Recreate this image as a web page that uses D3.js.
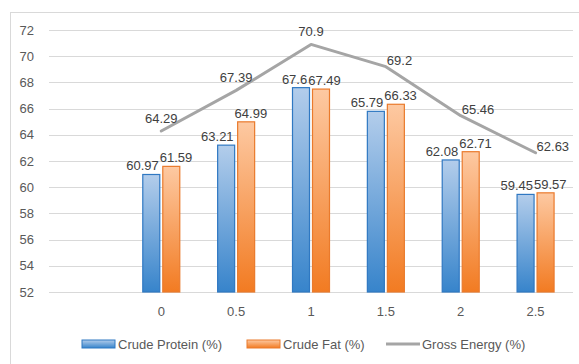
<!doctype html>
<html>
<head>
<meta charset="utf-8">
<title>Chart</title>
<script src="https://d3js.org/d3.v7.min.js"></script>
<style>
body { margin: 0; background: #fff; overflow: hidden; }
svg { display: block; }
text { font-family: "Liberation Sans", Arial, sans-serif; }
</style>
</head>
<body>
<svg width="579" height="364"></svg>
<script>
// first category is empty, as in the source sheet
var categories = ["", "0", "0.5", "1", "1.5", "2", "2.5"];
var protein = [null, 60.97, 63.21, 67.6, 65.79, 62.08, 59.45];
var fat = [null, 61.59, 64.99, 67.49, 66.33, 62.71, 59.57];
var energy = [null, 64.29, 67.39, 70.9, 69.2, 65.46, 62.63];
var yTicks = [52, 54, 56, 58, 60, 62, 64, 66, 68, 70, 72];
var seriesNames = ["Crude Protein (%)", "Crude Fat (%)", "Gross Energy (%)"];

var svg = d3.select("svg");
var plotLeft = 49, plotRight = 573, plotTop = 30, plotBottom = 292;

svg.append("rect")
    .attr("x", 10.5).attr("y", 12.5)
    .attr("width", 700).attr("height", 500)
    .attr("fill", "none").attr("stroke", "#d9d9d9");

var defs = svg.append("defs");
function grad(id, c1, c2) {
    var g = defs.append("linearGradient").attr("id", id)
        .attr("x1", 0).attr("y1", 0).attr("x2", 0).attr("y2", 1);
    g.append("stop").attr("offset", "0%").attr("stop-color", c1);
    g.append("stop").attr("offset", "100%").attr("stop-color", c2);
}
grad("gBlue", "#b3cdeb", "#3784cb");
grad("gOrange", "#fdc9a2", "#f27b22");

var x = d3.scaleBand().domain(categories).range([plotLeft, plotRight]);
var y = d3.scaleLinear().domain([52, 72]).range([plotBottom, plotTop]);
var inner = d3.scaleBand().domain([0, 1]).range([-19, 19]).paddingInner(0.1);

// gridlines + y labels
svg.append("g").selectAll("line").data(yTicks).enter().append("line")
    .attr("x1", plotLeft).attr("x2", plotRight)
    .attr("y1", function(d) { return Math.round(y(d)) + 0.5; })
    .attr("y2", function(d) { return Math.round(y(d)) + 0.5; })
    .attr("stroke", "#d9d9d9").attr("stroke-width", 1);

svg.append("g").selectAll("text").data(yTicks).enter().append("text")
    .attr("x", 34).attr("y", function(d) { return y(d) + 4.5; })
    .attr("text-anchor", "end").attr("font-size", 13).attr("fill", "#595959")
    .text(function(d) { return d; });

svg.append("g").selectAll("text").data(categories).enter().append("text")
    .attr("x", function(d) { return x(d) + x.bandwidth() / 2; })
    .attr("y", 316)
    .attr("text-anchor", "middle").attr("font-size", 13).attr("fill", "#595959")
    .text(function(d) { return d; });

var sets = [
    { vals: protein, fill: "url(#gBlue)", stroke: "#2f78c2", k: 0 },
    { vals: fat, fill: "url(#gOrange)", stroke: "#ea7a2c", k: 1 }
];

sets.forEach(function(s) {
    svg.append("g").selectAll("rect")
        .data(categories.map(function(c, i) { return { c: c, v: s.vals[i] }; }).filter(function(d) { return d.v != null; }))
        .enter().append("rect")
        .attr("x", function(d) { return x(d.c) + x.bandwidth() / 2 + inner(s.k) + 0.5; })
        .attr("y", function(d) { return y(d.v); })
        .attr("width", inner.bandwidth() - 1)
        .attr("height", function(d) { return y(52) - y(d.v); })
        .attr("fill", s.fill).attr("stroke", s.stroke).attr("stroke-width", 1.2);
});

// bar value labels, pushed apart when they collide
var labG = svg.append("g").attr("font-size", 13).attr("fill", "#404040");
categories.forEach(function(c, i) {
    if (protein[i] == null) return;
    var cx = x(c) + x.bandwidth() / 2;
    var t1 = labG.append("text").attr("text-anchor", "middle").text(protein[i]);
    var t2 = labG.append("text").attr("text-anchor", "middle").text(fat[i]);
    var w1 = t1.node().getComputedTextLength(), w2 = t2.node().getComputedTextLength();
    var c1 = cx + inner(0) + inner.bandwidth() / 2, c2 = cx + inner(1) + inner.bandwidth() / 2;
    var overlap = (c1 + w1 / 2) - (c2 - w2 / 2) + 1;
    if (overlap > 0) { c1 -= overlap * 0.65; c2 += overlap * 0.35; }
    t1.attr("x", c1).attr("y", y(protein[i]) - 4);
    t2.attr("x", c2).attr("y", y(fat[i]) - 4);
});

// energy line
var pts = categories.map(function(c, i) { return { c: c, v: energy[i], i: i }; }).filter(function(d) { return d.v != null; });
var line = d3.line()
    .x(function(d) { return x(d.c) + x.bandwidth() / 2; })
    .y(function(d) { return y(d.v); });
svg.append("path").datum(pts).attr("d", line)
    .attr("fill", "none").attr("stroke", "#a5a5a5").attr("stroke-width", 3)
    .attr("stroke-linejoin", "round").attr("stroke-linecap", "round");

var peak = energy.indexOf(d3.max(energy));
svg.append("g").attr("font-size", 13).attr("fill", "#404040")
    .selectAll("text").data(pts).enter().append("text")
    .attr("x", function(d) { return x(d.c) + x.bandwidth() / 2 + (d.i > peak ? 1 : 0); })
    .attr("y", function(d) { return y(d.v) + (d.i > peak ? -2 : -8); })
    .attr("text-anchor", function(d) { return d.i > peak ? "start" : "middle"; })
    .text(function(d) { return d.v; });

// legend
var leg = svg.append("g").attr("font-size", 13).attr("fill", "#595959");
var legX = [82, 247, 386];
leg.append("rect").attr("x", legX[0]).attr("y", 340).attr("width", 33).attr("height", 8)
    .attr("fill", "url(#gBlue)").attr("stroke", "#2f78c2");
leg.append("rect").attr("x", legX[1]).attr("y", 340).attr("width", 33).attr("height", 8)
    .attr("fill", "url(#gOrange)").attr("stroke", "#ea7a2c");
leg.append("line").attr("x1", legX[2]).attr("x2", legX[2] + 34).attr("y1", 344).attr("y2", 344)
    .attr("stroke", "#a5a5a5").attr("stroke-width", 3);
seriesNames.forEach(function(n, i) {
    leg.append("text").attr("x", legX[i] + 36).attr("y", 348.5).text(n);
});
</script>
</body>
</html>
